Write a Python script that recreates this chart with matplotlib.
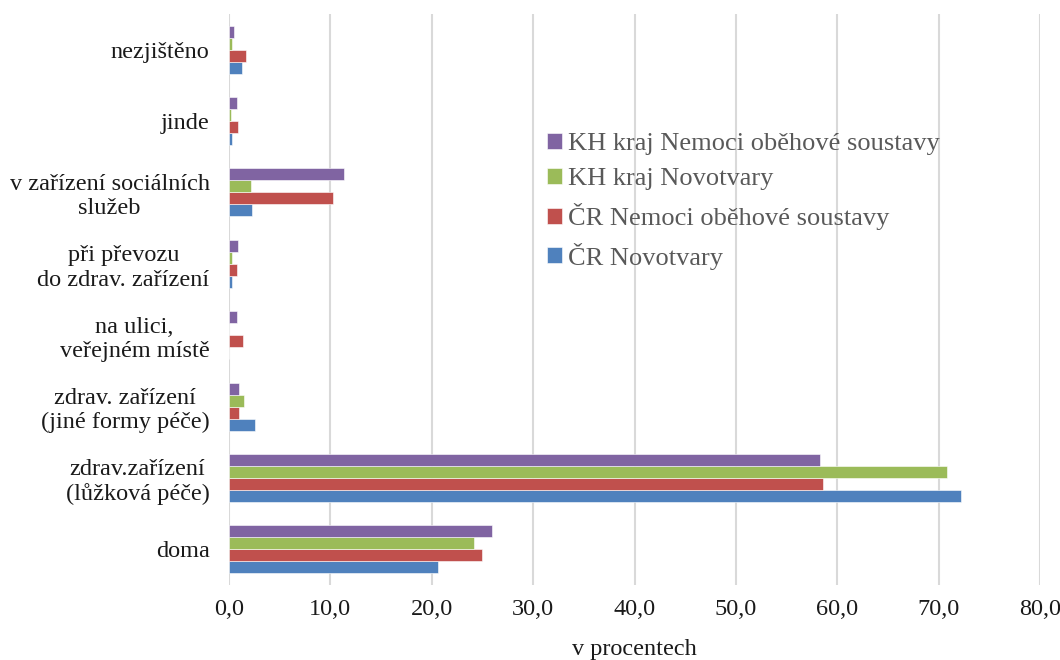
import matplotlib
matplotlib.use("Agg")
import matplotlib.pyplot as plt
import numpy as np
from matplotlib.ticker import FuncFormatter

plt.rcParams['font.family'] = ['Liberation Serif', 'DejaVu Serif']

categories = [
    "doma",
    "zdrav.zařízení\n(lůžková péče)",
    "zdrav. zařízení\n(jiné formy péče)",
    "na ulici,\nveřejném místě",
    "při převozu\ndo zdrav. zařízení",
    "v zařízení sociálních\nslužeb",
    "jinde",
    "nezjištěno",
]

series_names = [
    "ČR Novotvary",
    "ČR Nemoci oběhové soustavy",
    "KH kraj Novotvary",
    "KH kraj Nemoci oběhové soustavy",
]

cr_novotvary = [20.6, 72.2, 2.6, 0.0, 0.25, 2.3, 0.25, 1.3]
cr_obehove = [25.0, 58.6, 1.0, 1.4, 0.8, 10.3, 0.9, 1.7]
kh_novotvary = [24.2, 70.8, 1.5, 0.0, 0.25, 2.2, 0.15, 0.3]
kh_obehove = [25.9, 58.3, 1.0, 0.8, 0.9, 11.3, 0.8, 0.5]

series_values = [cr_novotvary, cr_obehove, kh_novotvary, kh_obehove]
colors = ["#4F81BD", "#C0504D", "#9BBB59", "#8064A2"]

fig = plt.figure(figsize=(10.6, 6.6), dpi=100)
ax = fig.add_axes([229 / 1060, 1 - 585 / 660, 811 / 1060, 571 / 660])

y = np.arange(len(categories))
bar_h = 0.168
offsets = (np.arange(4) - 1.5) * bar_h

handles = []
for vals, name, col, off in zip(series_values, series_names, colors, offsets):
    h = ax.barh(y + off, vals, height=bar_h, color=col, label=name,
                edgecolor='white', linewidth=0.4, zorder=3)
    handles.append(h)

ax.set_xlim(0, 80)
ax.set_ylim(-0.5, len(categories) - 0.5)
ax.set_xticks(np.arange(0, 81, 10))
ax.xaxis.set_major_formatter(FuncFormatter(lambda v, p: f"{v:.1f}".replace(".", ",")))
ax.set_yticks(y)
ax.set_yticklabels(categories, multialignment='center', linespacing=1.2)

ax.grid(axis='x', color='#D9D9D9', linewidth=1.5, zorder=0)
ax.set_axisbelow(True)
for s in ax.spines.values():
    s.set_visible(False)
ax.tick_params(axis='both', length=0, labelsize=17.5, colors='#1a1a1a')
ax.tick_params(axis='x', pad=10)
ax.tick_params(axis='y', pad=14)

ax.set_xlabel("v procentech", fontsize=17.5, color='#1a1a1a', labelpad=14)

leg = ax.legend(handles[::-1], series_names[::-1], loc='center left',
                bbox_to_anchor=(0.376, 0.672), frameon=False, fontsize=19,
                handlelength=0.55, handleheight=0.55, handletextpad=0.25,
                labelspacing=0.48, borderpad=0)
for t in leg.get_texts():
    t.set_color('#595959')

fig.savefig("out.png", dpi=100, facecolor='white')
